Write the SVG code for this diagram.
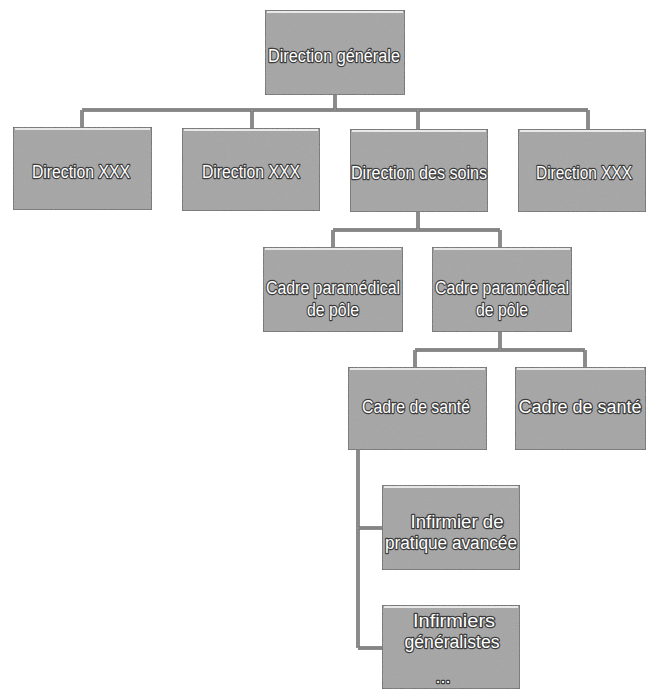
<svg xmlns="http://www.w3.org/2000/svg" width="649" height="689" viewBox="0 0 649 689">
<defs>
<filter id="grain" x="0" y="0" width="100%" height="100%">
<feTurbulence type="fractalNoise" baseFrequency="0.9" numOctaves="2" seed="3" result="n"/>
<feColorMatrix in="n" type="matrix" values="0 0 0 0 0.45  0 0 0 0 0.45  0 0 0 0 0.45  0 0 0 0.45 0" result="g"/>
<feComposite in="g" in2="SourceGraphic" operator="in" result="gc"/>
<feMerge><feMergeNode in="SourceGraphic"/><feMergeNode in="gc"/></feMerge>
</filter>
</defs>
<style>
.box{fill:#a3a3a3;stroke:#555555;stroke-width:1.5;filter:url(#grain)}
.hl{stroke:#e8e8e8;stroke-width:2}
.t{font-family:"Liberation Sans",Arial,sans-serif;font-size:18px;fill:#ffffff;stroke:#3c3c3c;stroke-width:2.4;paint-order:stroke;stroke-linejoin:round;text-anchor:middle}
.c{fill:none;stroke:#6a6a6a;stroke-width:3.5}
.ci{fill:none;stroke:#a0a0a0;stroke-width:1.2}
</style>
<rect width="649" height="689" fill="#ffffff"/>
<g id="connectors">
<path class="c" d="M335 95V110M82 110H588M82 110V127M252 110V128M418 110V129M588 110V129"/>
<path class="c" d="M418 212V230M333 230H500M333 230V247M500 230V247"/>
<path class="c" d="M500 332V350M415 350H585M415 350V367M585 350V367"/>
<path class="c" d="M358 450V648M358 528H382M358 648H382"/>
<path class="ci" d="M335 95V110M82 110H588M82 110V127M252 110V128M418 110V129M588 110V129M418 212V230M333 230H500M333 230V247M500 230V247M500 332V350M415 350H585M415 350V367M585 350V367M358 450V648M358 528H382M358 648H382"/>
</g>
<g id="n1"><rect class="box" x="265" y="10" width="140" height="85"/><line class="hl" x1="267" y1="12" x2="403" y2="12"/><text class="t" x="334" y="62" textLength="132" lengthAdjust="spacingAndGlyphs">Direction générale</text></g>
<g id="n2"><rect class="box" x="13" y="127" width="139" height="83"/><line class="hl" x1="15" y1="129" x2="150" y2="129"/><text class="t" x="81" y="178" textLength="98" lengthAdjust="spacingAndGlyphs">Direction XXX</text></g>
<g id="n3"><rect class="box" x="182" y="128" width="138" height="83"/><line class="hl" x1="184" y1="130" x2="318" y2="130"/><text class="t" x="251" y="178" textLength="98" lengthAdjust="spacingAndGlyphs">Direction XXX</text></g>
<g id="n4"><rect class="box" x="350" y="129" width="138" height="83"/><line class="hl" x1="352" y1="131" x2="486" y2="131"/><text class="t" x="419" y="179" textLength="136" lengthAdjust="spacingAndGlyphs">Direction des soins</text></g>
<g id="n5"><rect class="box" x="518" y="129" width="128" height="83"/><line class="hl" x1="520" y1="131" x2="644" y2="131"/><text class="t" x="584" y="179" textLength="96" lengthAdjust="spacingAndGlyphs">Direction XXX</text></g>
<g id="n6"><rect class="box" x="263" y="247" width="140" height="85"/><line class="hl" x1="265" y1="249" x2="401" y2="249"/><text class="t" x="333" y="294" textLength="134" lengthAdjust="spacingAndGlyphs">Cadre paramédical</text><text class="t" x="333" y="316" textLength="52" lengthAdjust="spacingAndGlyphs">de pôle</text></g>
<g id="n7"><rect class="box" x="432" y="247" width="140" height="85"/><line class="hl" x1="434" y1="249" x2="570" y2="249"/><text class="t" x="502" y="294" textLength="134" lengthAdjust="spacingAndGlyphs">Cadre paramédical</text><text class="t" x="502" y="316" textLength="52" lengthAdjust="spacingAndGlyphs">de pôle</text></g>
<g id="n8"><rect class="box" x="348" y="367" width="139" height="83"/><line class="hl" x1="350" y1="369" x2="485" y2="369"/><text class="t" x="416" y="413" textLength="108" lengthAdjust="spacingAndGlyphs">Cadre de santé</text></g>
<g id="n9"><rect class="box" x="515" y="367" width="131" height="83"/><line class="hl" x1="517" y1="369" x2="644" y2="369"/><text class="t" x="580" y="413" font-size="16">Cadre de santé</text></g>
<g id="n10"><rect class="box" x="382" y="485" width="138" height="85"/><line class="hl" x1="384" y1="487" x2="518" y2="487"/><text class="t" x="457" y="528" textLength="93" lengthAdjust="spacingAndGlyphs">Infirmier de</text><text class="t" x="451" y="549" textLength="132" lengthAdjust="spacingAndGlyphs">pratique avancée</text></g>
<g id="n11"><rect class="box" x="382" y="605" width="138" height="84"/><line class="hl" x1="384" y1="607" x2="518" y2="607"/><text class="t" x="454" y="627" textLength="82" lengthAdjust="spacingAndGlyphs">Infirmiers</text><text class="t" x="452" y="648" textLength="95" lengthAdjust="spacingAndGlyphs">généralistes</text><text class="t" x="443" y="683">...</text></g>
</svg>
